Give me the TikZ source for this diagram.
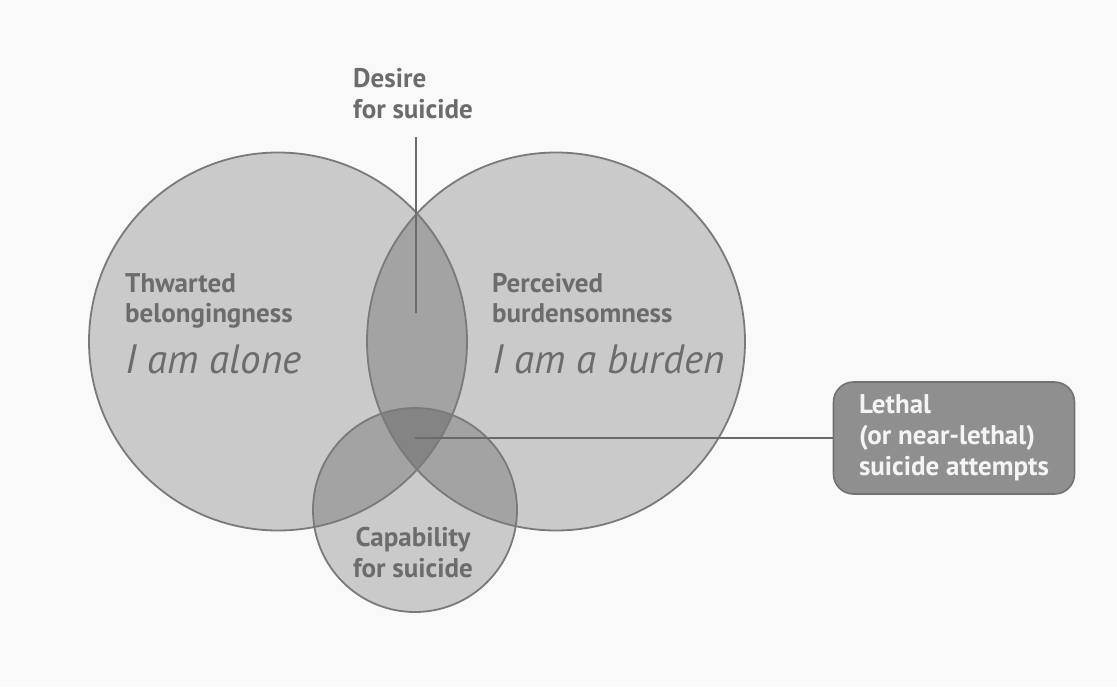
\documentclass[tikz,border=0pt]{standalone}
\usepackage{fontspec}
\setmainfont{PT Sans}
\usetikzlibrary{calc}
\definecolor{paper}{HTML}{F9F9F9}
\definecolor{ringgray}{HTML}{7A7A7A}
\definecolor{textgray}{HTML}{6C6C6C}
\definecolor{linegray}{HTML}{6A6A6A}
\definecolor{boxfill}{HTML}{8F8F8F}
\definecolor{boxline}{HTML}{727272}
\definecolor{boxtext}{HTML}{F4F4F4}

\begin{document}
\begin{tikzpicture}[x=1pt,y=-1pt,
    venn/.style={circle,fill=black,fill opacity=0.19,inner sep=0pt},
    ring/.style={draw=ringgray,line width=1.8pt},
    tag/.style={inner sep=0pt,text=textgray,align=left,anchor=base west,
        font=\fontsize{27}{30.5}\selectfont\bfseries},
    voice/.style={inner sep=0pt,text=textgray,anchor=base west,
        font=\fontsize{41}{48}\selectfont\itshape},
    leader/.style={draw=linegray,line width=1.6pt},
    lethalbox/.style={draw=boxline,line width=1.6pt,fill=boxfill,rounded corners=20pt,
        minimum width=241pt,minimum height=112pt,text=boxtext,align=left,
        font=\fontsize{27}{31}\selectfont\bfseries}]

    % paper and fixed frame
    \fill[paper] (0,0) rectangle (1117,686);
    \useasboundingbox (0,0) rectangle (1117,686);

    % the three risk factors
    \node[venn,minimum size=378pt] (belong) at (278,341.5) {};
    \node[venn,minimum size=378pt] (burden) at (556,341.5) {};
    \node[venn,minimum size=204pt] (capab) at (415,510) {};

    % outlines above all fills
    \draw[ring] (belong.center) circle[radius=189pt];
    \draw[ring] (burden.center) circle[radius=189pt];
    \draw[ring] (capab.center) circle[radius=102pt];

    % labels (base = baseline of the last line)
    \node[tag] (desire) at (353,118) {Desire\\for suicide};
    \node[tag] (thwart) at (125,322.5) {Thwarted\\belongingness};
    \node[voice] (alone) at (125,373) {I am alone};
    \node[tag] (perceiv) at (492,322.5) {Perceived\\burdensomness};
    \node[voice] (aburden) at (492,373) {I am a burden};
    \node[tag,align=center,anchor=base] (capable) at (413,577) {Capability\\for suicide};

    % outcome box
    \node[lethalbox] (lethal) at (954,438) {Lethal\\(or near-lethal)\\suicide attempts};

    % leader lines
    \coordinate (desiretip) at (416,313);
    \coordinate (lethaltip) at (415,438);
    \draw[leader] (desiretip |- 0,137) -- (desiretip);
    \draw[leader] (lethaltip) -- (lethal.west);

\end{tikzpicture}
\end{document}
